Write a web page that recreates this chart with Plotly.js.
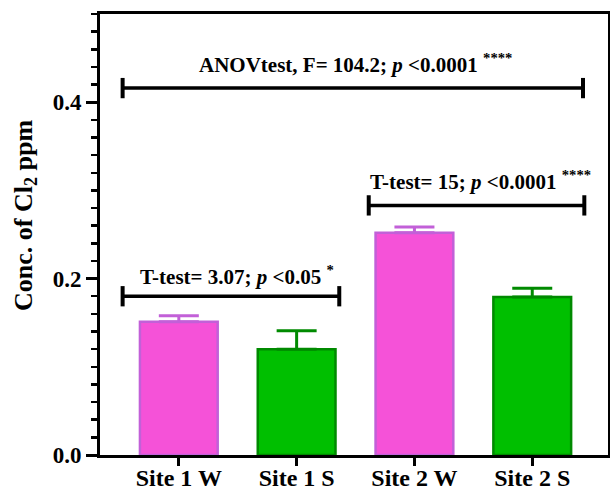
<!DOCTYPE html>
<html>
<head>
<meta charset="utf-8">
<script src="https://cdn.plot.ly/plotly-3.0.1.min.js"></script>
<style>
  html, body { margin: 0; padding: 0; background: #ffffff; }
  #chart { width: 610px; height: 490px; }
</style>
</head>
<body>
<div id="chart"></div>
<script>
// ---- data ----
const categories = ['Site 1 W', 'Site 1 S', 'Site 2 W', 'Site 2 S'];
const meanConc   = [0.151, 0.120, 0.252, 0.179];
const errorPlus  = [0.007, 0.021, 0.0065, 0.010];
const seasons    = ['W', 'S', 'W', 'S'];
const yTickVals  = [0.0, 0.2, 0.4];
const yTickText  = ['0.0', '0.2', '0.4'];
const yTitle     = 'Conc. of Cl<sub>2</sub> ppm';

// ---- styles ----
const FONT = '"Liberation Serif", "Times New Roman", Times, serif';
const fillColor   = { W: '#f552d8', S: '#00bf00' };
const borderColor = { W: '#c260d8', S: '#008a00' };

const traces = categories.map((c, i) => ({
  type: 'bar',
  x: [c],
  y: [meanConc[i]],
  width: 0.66,
  marker: {
    color: fillColor[seasons[i]],
    line: { color: borderColor[seasons[i]], width: 2.5 }
  },
  error_y: {
    type: 'data',
    symmetric: false,
    array: [errorPlus[i]],
    arrayminus: [0],
    color: borderColor[seasons[i]],
    thickness: 3,
    width: 20
  },
  showlegend: false,
  hoverinfo: 'x+y'
}));

// comparison brackets (category-index coordinates)
const brackets = [
  { x0: -0.477, x1: 3.431, y: 0.416 },
  { x0: -0.477, x1: 1.362, y: 0.180 },
  { x0:  1.612, x1: 3.442, y: 0.283 }
];
const capH = 0.0115;
const shapes = [];
brackets.forEach(b => {
  shapes.push({ type: 'line', xref: 'x', yref: 'y', x0: b.x0, x1: b.x1, y0: b.y, y1: b.y, line: { color: '#000000', width: 3.5 } });
  shapes.push({ type: 'line', xref: 'x', yref: 'y', x0: b.x0, x1: b.x0, y0: b.y - capH, y1: b.y + capH, line: { color: '#000000', width: 4 } });
  shapes.push({ type: 'line', xref: 'x', yref: 'y', x0: b.x1, x1: b.x1, y0: b.y - capH, y1: b.y + capH, line: { color: '#000000', width: 4 } });
});

const annFont = { family: FONT, size: 21, color: '#000000', weight: 700 };
const annotations = [
  { text: 'ANOVtest, F= 104.2; <i>p</i> &lt;0.0001 <sup>****</sup>', x: 1.497, y: 0.444 },
  { text: 'T-test= 3.07; <i>p</i> &lt;0.05 <sup>*</sup>', x: 0.49, y: 0.2035 },
  { text: 'T-test= 15; <i>p</i> &lt;0.0001 <sup>****</sup>', x: 2.557, y: 0.311 }
].map(a => Object.assign({
  xref: 'x', yref: 'y', showarrow: false,
  xanchor: 'center', yanchor: 'middle',
  font: annFont
}, a));

// y-axis title drawn as rotated annotation (it sits above the plot's centre in the reference)
annotations.push({
  text: yTitle,
  xref: 'paper', yref: 'paper',
  x: -0.1476, y: 0.542,
  xanchor: 'center', yanchor: 'middle',
  textangle: -90,
  showarrow: false,
  font: { family: FONT, size: 26, color: '#000000', weight: 700 }
});

const layout = {
  width: 610,
  height: 490,
  margin: { l: 100, r: 2, t: 14, b: 35 },
  paper_bgcolor: '#ffffff',
  plot_bgcolor: '#ffffff',
  barmode: 'overlay',
  showlegend: false,
  font: { family: FONT, color: '#000000' },
  xaxis: {
    type: 'category',
    categoryorder: 'array',
    categoryarray: categories,
    range: [-0.669, 3.643],
    showgrid: false,
    zeroline: false,
    showline: true,
    linecolor: '#000000',
    linewidth: 3,
    mirror: true,
    ticks: 'outside',
    ticklen: 8,
    tickwidth: 3,
    tickcolor: '#000000',
    ticklabelstandoff: -9,
    tickfont: { family: FONT, size: 24, color: '#000000', weight: 700 }
  },
  yaxis: {
    range: [0, 0.5],
    tickmode: 'array',
    tickvals: yTickVals,
    ticktext: yTickText,
    showgrid: false,
    zeroline: false,
    showline: true,
    linecolor: '#000000',
    linewidth: 3,
    mirror: true,
    ticks: 'outside',
    ticklen: 11,
    tickwidth: 3,
    tickcolor: '#000000',
    tickfont: { family: FONT, size: 23, color: '#000000', weight: 700 },
    minor: { dtick: 0.02, tick0: 0, ticks: 'outside', ticklen: 6, tickwidth: 2.5, tickcolor: '#000000', showgrid: false }
  },
  shapes: shapes,
  annotations: annotations
};

Plotly.newPlot('chart', traces, layout, { displayModeBar: false, staticPlot: true });
</script>
</body>
</html>
